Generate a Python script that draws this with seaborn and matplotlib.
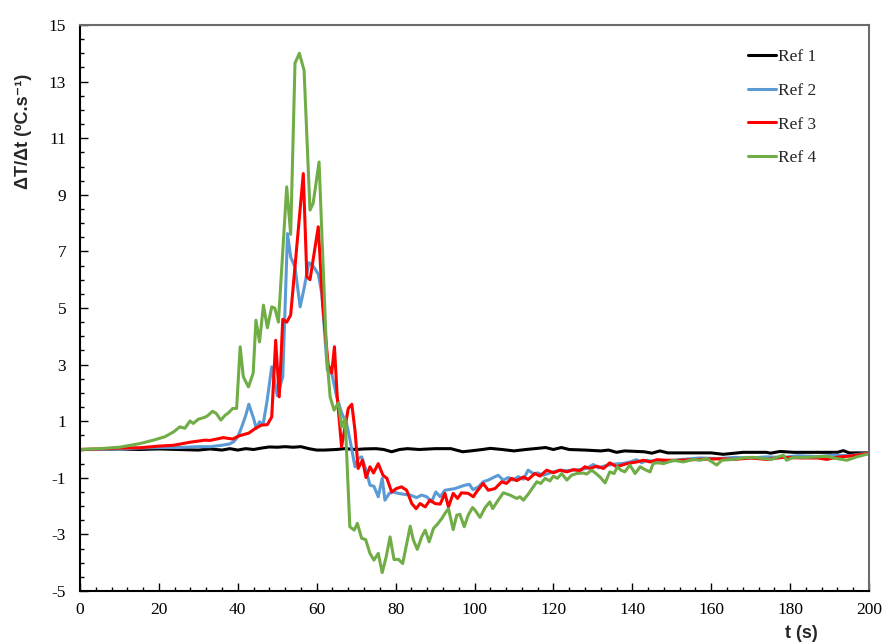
import pandas as pd
import numpy as np
import matplotlib
matplotlib.use("Agg")
import matplotlib.pyplot as plt
import seaborn as sns
from matplotlib.ticker import MultipleLocator

# --- values (t in s, rate in ºC/s) --- #
series_names = ["Ref 1", "Ref 2", "Ref 3", "Ref 4"]
series_colors = ["#000000", "#5B9BD5", "#FF0000", "#70AD47"]

t1 = [0, 5, 10, 15, 20, 25, 30, 33, 36, 38, 40, 42, 44, 46, 48, 50, 52, 54, 56, 58,
      60, 62, 65, 67, 70, 72, 75, 77, 79, 81, 83, 86, 90, 94, 97, 99, 102, 104, 107, 110,
      113, 116, 118, 120, 122, 124, 128, 132, 134, 136, 138, 143, 145, 147, 149, 155, 160, 163, 166, 168,
      174, 175, 177.5, 181, 186, 192, 193.5, 195, 200]
ref1 = [0.0, 0.0, 0.02, 0.0, 0.02, 0.0, -0.02, 0.02, -0.02, 0.03, -0.02, 0.03, 0.0, 0.05, 0.09, 0.08, 0.1, 0.08, 0.1, 0.03,
        -0.02, -0.02, 0.0, 0.03, 0.0, 0.02, 0.03, 0.0, -0.08, 0.0, 0.03, 0.0, 0.03, 0.03, -0.08, -0.05, 0.0, 0.04, 0.0, -0.05,
        0.0, 0.04, 0.07, 0.0, 0.07, 0.0, -0.02, -0.05, -0.02, -0.1, -0.05, -0.08, -0.13, -0.05, -0.12, -0.12, -0.12, -0.17, -0.13, -0.1,
        -0.1, -0.13, -0.07, -0.1, -0.1, -0.1, -0.04, -0.12, -0.12]

t2 = [0, 5, 10, 15, 20, 25, 30, 33, 36, 38, 39, 40, 41, 42, 42.8, 44, 44.7, 45.5, 46.4, 47.4,
      48.6, 50, 51.4, 52.6, 53.4, 54.5, 55.8, 56.8, 58, 59, 60.4, 61.3, 62.7, 63.8, 65, 66.3, 67.6, 68.5, 69.7, 70.5,
      71.4, 72.5, 73.5, 74.5, 75.6, 76.6, 77.3, 78.4, 79.4, 80.7, 82, 83.7, 85.3, 86.6, 87.9, 89.1, 90.2, 91.3, 92.5, 93.8,
      95.1, 96.3, 97.6, 98.7, 99.6, 101, 102.2, 103.5, 104.8, 106, 107.3, 108.6, 109.8, 111.1, 112.4, 113.6, 114.9, 116.1, 117.4, 118.7,
      120, 121.7, 123.4, 125.1, 126.7, 128.4, 130.1, 131.4, 132.7, 135.2, 137.7, 139.4, 141.1, 142.4, 143.6, 146.2, 148.7, 152, 157, 162,
      166, 170, 174, 178, 182, 187, 191, 195, 200]
ref2 = [0.0, 0.0, 0.02, 0.05, 0.07, 0.07, 0.1, 0.1, 0.15, 0.2, 0.28, 0.45, 0.8, 1.2, 1.6, 1.1, 0.74, 0.98, 0.88, 1.7,
        2.92, 1.9, 2.57, 7.63, 6.8, 6.45, 5.04, 5.69, 6.6, 6.5, 6.2, 5.5, 2.8, 2.7, 1.9, 1.3, 0.9, 0.3, -0.61, -0.32,
        -0.26, -0.73, -1.26, -1.3, -1.67, -1.02, -1.79, -1.55, -1.5, -1.55, -1.58, -1.61, -1.7, -1.61, -1.67, -1.85, -1.5, -1.67, -1.44, -1.41,
        -1.38, -1.32, -1.26, -1.23, -1.42, -1.32, -1.14, -1.08, -0.99, -0.91, -1.08, -0.99, -1.08, -0.96, -1.05, -0.73, -0.85, -0.83, -0.91, -0.85,
        -0.79, -0.73, -0.75, -0.73, -0.71, -0.67, -0.53, -0.65, -0.59, -0.52, -0.49, -0.44, -0.36, -0.47, -0.38, -0.44, -0.44, -0.36, -0.3, -0.32,
        -0.28, -0.3, -0.26, -0.28, -0.22, -0.25, -0.2, -0.22, -0.12]

t3 = [0, 5, 10, 15, 20, 23.7, 25.3, 28, 31.7, 33, 36.3, 38.7, 40.3, 42.8, 44.5, 46, 47.5, 48.6, 49.6, 50.5,
      51.4, 52.4, 53.4, 56.6, 57.5, 58.3, 60.4, 61.5, 62.9, 63.8, 64.5, 65.2, 66.3, 67.2, 68, 68.9, 69.7, 70.5, 71.6, 72.5,
      73.5, 74.4, 75.6, 76.8, 77.8, 79, 80.2, 81.5, 82.8, 84.1, 85.2, 86.2, 87.5, 88.7, 90, 91.3, 92.5, 93.4, 94.6, 95.7,
      96.7, 98.4, 99.7, 100.5, 102.2, 103.5, 105.2, 106.9, 108.1, 109.4, 110.7, 112.4, 113.6, 115.3, 116.6, 118.3, 120, 121.7, 123.4, 125.1,
      126.7, 128, 129.3, 131, 132.7, 134.3, 136, 138.6, 141.1, 142.8, 144.5, 146.2, 148.7, 152, 157, 162, 166, 170, 174, 178,
      183, 187, 189.3, 192, 196, 200]
ref3 = [0.0, 0.02, 0.05, 0.06, 0.12, 0.15, 0.19, 0.26, 0.33, 0.32, 0.42, 0.37, 0.48, 0.58, 0.75, 0.86, 0.88, 1.15, 3.86, 1.86,
        4.6, 4.5, 4.75, 9.75, 6.1, 6.0, 7.87, 5.16, 3.0, 2.7, 3.63, 1.86, 0.1, 0.8, 1.45, 1.6, 0.68, -0.67, -0.38, -0.99,
        -0.61, -0.83, -0.5, -0.91, -1.02, -1.5, -1.38, -1.32, -1.44, -1.91, -2.09, -1.91, -2.03, -1.79, -1.91, -1.93, -1.55, -2.03, -1.55, -1.73,
        -1.53, -1.55, -1.67, -1.5, -1.2, -1.44, -1.38, -1.14, -1.2, -1.02, -1.1, -0.97, -1.06, -0.85, -0.94, -0.73, -0.82, -0.73, -0.79, -0.71,
        -0.75, -0.61, -0.67, -0.59, -0.67, -0.47, -0.61, -0.5, -0.44, -0.38, -0.44, -0.36, -0.38, -0.38, -0.35, -0.33, -0.35, -0.3, -0.35, -0.28,
        -0.3, -0.3, -0.35, -0.27, -0.22, -0.13]

t4 = [0, 5, 10, 15.2, 18.6, 21.5, 23.7, 25.3, 26.6, 27.9, 28.7, 30, 31.7, 32.5, 33.6, 34.5, 35.7, 36.8, 37.6, 38.7,
      39.7, 40.6, 41.4, 42.7, 43.9, 44.6, 45.5, 46.5, 47.5, 48.6, 49.4, 50.3, 52.4, 53.4, 54.5, 55.6, 56.8, 58.3, 59.1, 60.6,
      62.5, 63.4, 64.4, 65.5, 66.3, 67.2, 68.4, 69.5, 70.3, 71.4, 72.4, 73.5, 74.5, 75.6, 76.6, 77.6, 78.6, 79.6, 80.7, 81.8,
      83.7, 84.5, 85.5, 86.6, 87.5, 88.5, 89.6, 90.6, 91.7, 92.5, 93.4, 94.6, 95.5, 96.3, 97.4, 98.4, 99.5, 100.1, 101.4, 102.7,
      103.9, 104.6, 106, 107.3, 109, 110.7, 111.5, 112.4, 113.6, 114.9, 115.8, 116.8, 117.9, 119.1, 120, 121, 122.1, 123.4, 124.6, 125.9,
      127.6, 128.4, 129.7, 130.8, 131.8, 133.1, 134.3, 135.4, 136.2, 137.1, 138.1, 139.4, 140.7, 142, 143.2, 144.5, 145.3, 146.6, 147.9, 150.4,
      152.9, 155.5, 157.2, 158.9, 161.4, 162.7, 165.6, 169, 170.7, 173.2, 175.3, 176.6, 178.3, 179.1, 180.8, 184.2, 186.7, 189.3, 191.8, 194.4,
      196.9, 200]
ref4 = [0.0, 0.03, 0.08, 0.21, 0.33, 0.45, 0.62, 0.8, 0.75, 1.01, 0.92, 1.07, 1.14, 1.21, 1.35, 1.28, 1.04, 1.21, 1.29, 1.45,
        1.45, 3.63, 2.57, 2.21, 2.7, 4.57, 3.8, 5.1, 4.3, 5.04, 4.99, 4.5, 9.28, 7.6, 13.65, 14.0, 13.4, 8.46, 8.7, 10.16,
        3.4, 1.86, 1.39, 1.65, 0.8, 1.1, -2.73, -2.85, -2.61, -3.14, -3.18, -3.67, -3.91, -3.67, -4.35, -3.8, -3.09, -3.89, -3.88, -4.03,
        -2.71, -3.2, -3.53, -3.09, -2.85, -3.26, -2.79, -2.64, -2.44, -2.26, -2.09, -2.83, -2.32, -2.29, -2.73, -2.32, -2.05, -2.14, -2.4, -2.05,
        -1.85, -2.09, -1.79, -1.53, -1.61, -1.73, -1.67, -1.79, -1.58, -1.32, -1.14, -1.2, -1.02, -1.11, -0.94, -1.02, -0.85, -1.08, -0.91, -0.85,
        -0.83, -0.87, -0.73, -0.85, -0.97, -1.18, -0.79, -0.85, -0.61, -0.73, -0.79, -0.55, -0.85, -0.61, -0.71, -0.79, -0.49, -0.47, -0.5, -0.38,
        -0.44, -0.35, -0.38, -0.32, -0.55, -0.38, -0.35, -0.28, -0.28, -0.32, -0.35, -0.28, -0.2, -0.38, -0.28, -0.28, -0.26, -0.24, -0.32, -0.38,
        -0.26, -0.15]

y_ticks = [-5, -3, -1, 1, 3, 5, 7, 9, 11, 13, 15]

sns.set_style("ticks")
plt.rcParams['font.family'] = ['Liberation Serif', 'DejaVu Serif']
plt.rcParams['axes.unicode_minus'] = False

frames = []
for name, t, v in zip(series_names, [t1, t2, t3, t4], [ref1, ref2, ref3, ref4]):
    frames.append(pd.DataFrame({"t": t, "rate": v, "series": name}))
df = pd.concat(frames, ignore_index=True)

fig = plt.figure(figsize=(8.84, 6.44), dpi=100)
ax = fig.add_axes([80 / 884, 53 / 644, 789 / 884, 566 / 644])

sns.lineplot(data=df, x="t", y="rate", hue="series", hue_order=series_names,
             palette=series_colors, estimator=None, sort=False, linewidth=2.2, ax=ax)

ax.set_xlim(0, 200)
ax.set_ylim(-5, 15)
ax.xaxis.set_major_locator(MultipleLocator(20))
ax.xaxis.set_minor_locator(MultipleLocator(4))
ax.set_yticks(y_ticks)
ax.yaxis.set_minor_locator(MultipleLocator(0.5))
ax.tick_params(which="both", direction="in", width=1.0, colors="black", labelsize=12.5)
ax.tick_params(which="major", length=6)
ax.tick_params(which="minor", length=3)
ax.tick_params(axis="y", pad=10)
ax.tick_params(axis="x", pad=8)
ax.set_xlabel("")
ax.set_ylabel("")

for side in ["left", "bottom"]:
    ax.spines[side].set_color("black")
    ax.spines[side].set_linewidth(1.5)
for side in ["top", "right"]:
    ax.spines[side].set_visible(True)
    ax.spines[side].set_color("#6b6b6b")
    ax.spines[side].set_linewidth(1.5)

handles, labels = ax.get_legend_handles_labels()
ax.legend(handles, labels, loc="upper left", bbox_to_anchor=(0.847, 0.957),
          frameon=False, handlelength=1.6, handletextpad=0.1, labelspacing=1.0,
          borderpad=0, borderaxespad=0, fontsize=12.5)

sans_bold = dict(family=["Liberation Sans", "DejaVu Sans"], fontweight="bold", fontsize=13)
fig.text(24 / 884, 1 - 131 / 644, "ΔT/Δt (ºC.s⁻¹)", rotation=90, ha="center", va="center", **sans_bold)
fig.text(801 / 884, 1 - 633 / 644, "t (s)", ha="center", va="center", **sans_bold)

fig.savefig("out.png", dpi=100)
